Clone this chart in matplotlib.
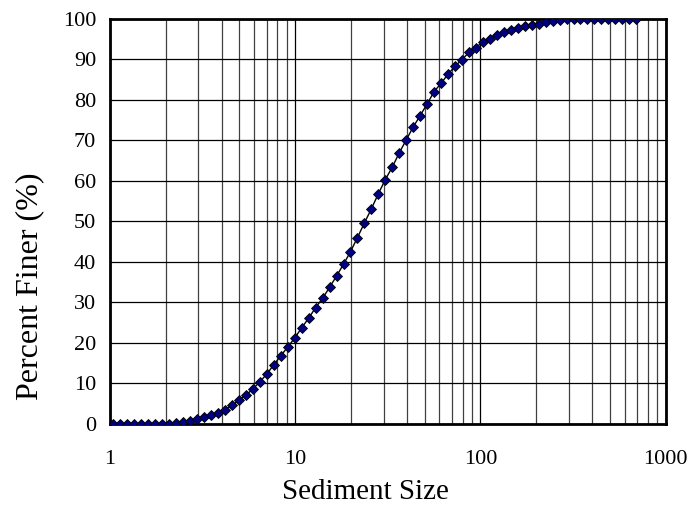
import matplotlib
matplotlib.use('Agg')
import matplotlib.pyplot as plt
from matplotlib.ticker import LogLocator, NullFormatter, FixedLocator

# sieve sizes (geometric, quarter-phi style spacing)
sizes = [1.044, 1.139, 1.242, 1.354, 1.477, 1.611, 1.756, 1.915,
         2.089, 2.278, 2.484, 2.709, 2.954, 3.221, 3.513, 3.831,
         4.177, 4.555, 4.967, 5.417, 5.907, 6.442, 7.025, 7.661,
         8.354, 9.111, 9.935, 10.83, 11.82, 12.88, 14.05, 15.32,
         16.71, 18.22, 19.87, 21.67, 23.63, 25.77, 28.10, 30.64,
         33.42, 36.44, 39.74, 43.34, 47.26, 51.54, 56.20, 61.29,
         66.83, 72.89, 79.48, 86.67, 94.52, 103.1, 112.4, 122.6,
         133.7, 145.8, 159.0, 173.4, 189.0, 206.1, 224.8, 245.2,
         267.3, 291.5, 317.9, 346.7, 378.1, 412.3, 449.6, 490.3,
         534.7, 583.1, 635.9, 693.4]

finer = [0, 0, 0, 0, 0, 0, 0, 0,
         0, 0.2, 0.5, 0.8, 1.1, 1.6, 2.1, 2.8,
         3.5, 4.6, 5.8, 7.1, 8.6, 10.4, 12.3, 14.6,
         16.8, 19.0, 21.2, 23.7, 26.1, 28.7, 31.0, 33.7,
         36.5, 39.4, 42.5, 46.0, 49.6, 53.1, 56.8, 60.3,
         63.4, 66.9, 70.1, 73.3, 76.1, 79.0, 82.0, 84.1,
         86.3, 88.3, 89.9, 91.7, 92.9, 94.3, 95.0, 96.0,
         96.7, 97.3, 97.8, 98.2, 98.5, 98.8, 99.1, 99.4,
         99.7, 100, 100, 100, 100, 100, 100, 100,
         100, 100, 100, 100]

x_ticks = [1, 10, 100, 1000]
y_ticks = [0, 10, 20, 30, 40, 50, 60, 70, 80, 90, 100]

plt.rcParams['font.family'] = ['Liberation Serif', 'DejaVu Serif']

fig = plt.figure(figsize=(6.92, 5.07), dpi=100)
ax = fig.add_axes([0.159, 0.164, 0.803, 0.799])

ax.plot(sizes, finer, color='black', linewidth=1, marker='D', markersize=5,
        markerfacecolor='#000080', markeredgecolor='black', markeredgewidth=0.6,
        zorder=3)

ax.set_xscale('log')
ax.set_xlim(1, 1000)
ax.set_ylim(0, 100)
ax.xaxis.set_major_locator(FixedLocator(x_ticks))
ax.set_xticklabels([str(t) for t in x_ticks])
ax.xaxis.set_minor_locator(LogLocator(base=10, subs=range(2, 10)))
ax.xaxis.set_minor_formatter(NullFormatter())
ax.set_yticks(y_ticks)

ax.grid(True, which='major', axis='both', color='black', linewidth=0.9)
ax.grid(True, which='minor', axis='x', color='#404040', linewidth=0.9)

ax.tick_params(axis='x', which='both', length=0, pad=19, labelsize=16)
ax.tick_params(axis='y', which='both', length=0, pad=10, labelsize=16)

for s in ax.spines.values():
    s.set_linewidth(2)
    s.set_color('black')

ax.set_xlabel('Sediment Size', fontsize=21)
ax.set_ylabel('Percent Finer (%)', fontsize=23)
ax.xaxis.set_label_coords(0.46, -0.135)
ax.yaxis.set_label_coords(-0.118, 0.34)

fig.savefig('out.png', dpi=100)
